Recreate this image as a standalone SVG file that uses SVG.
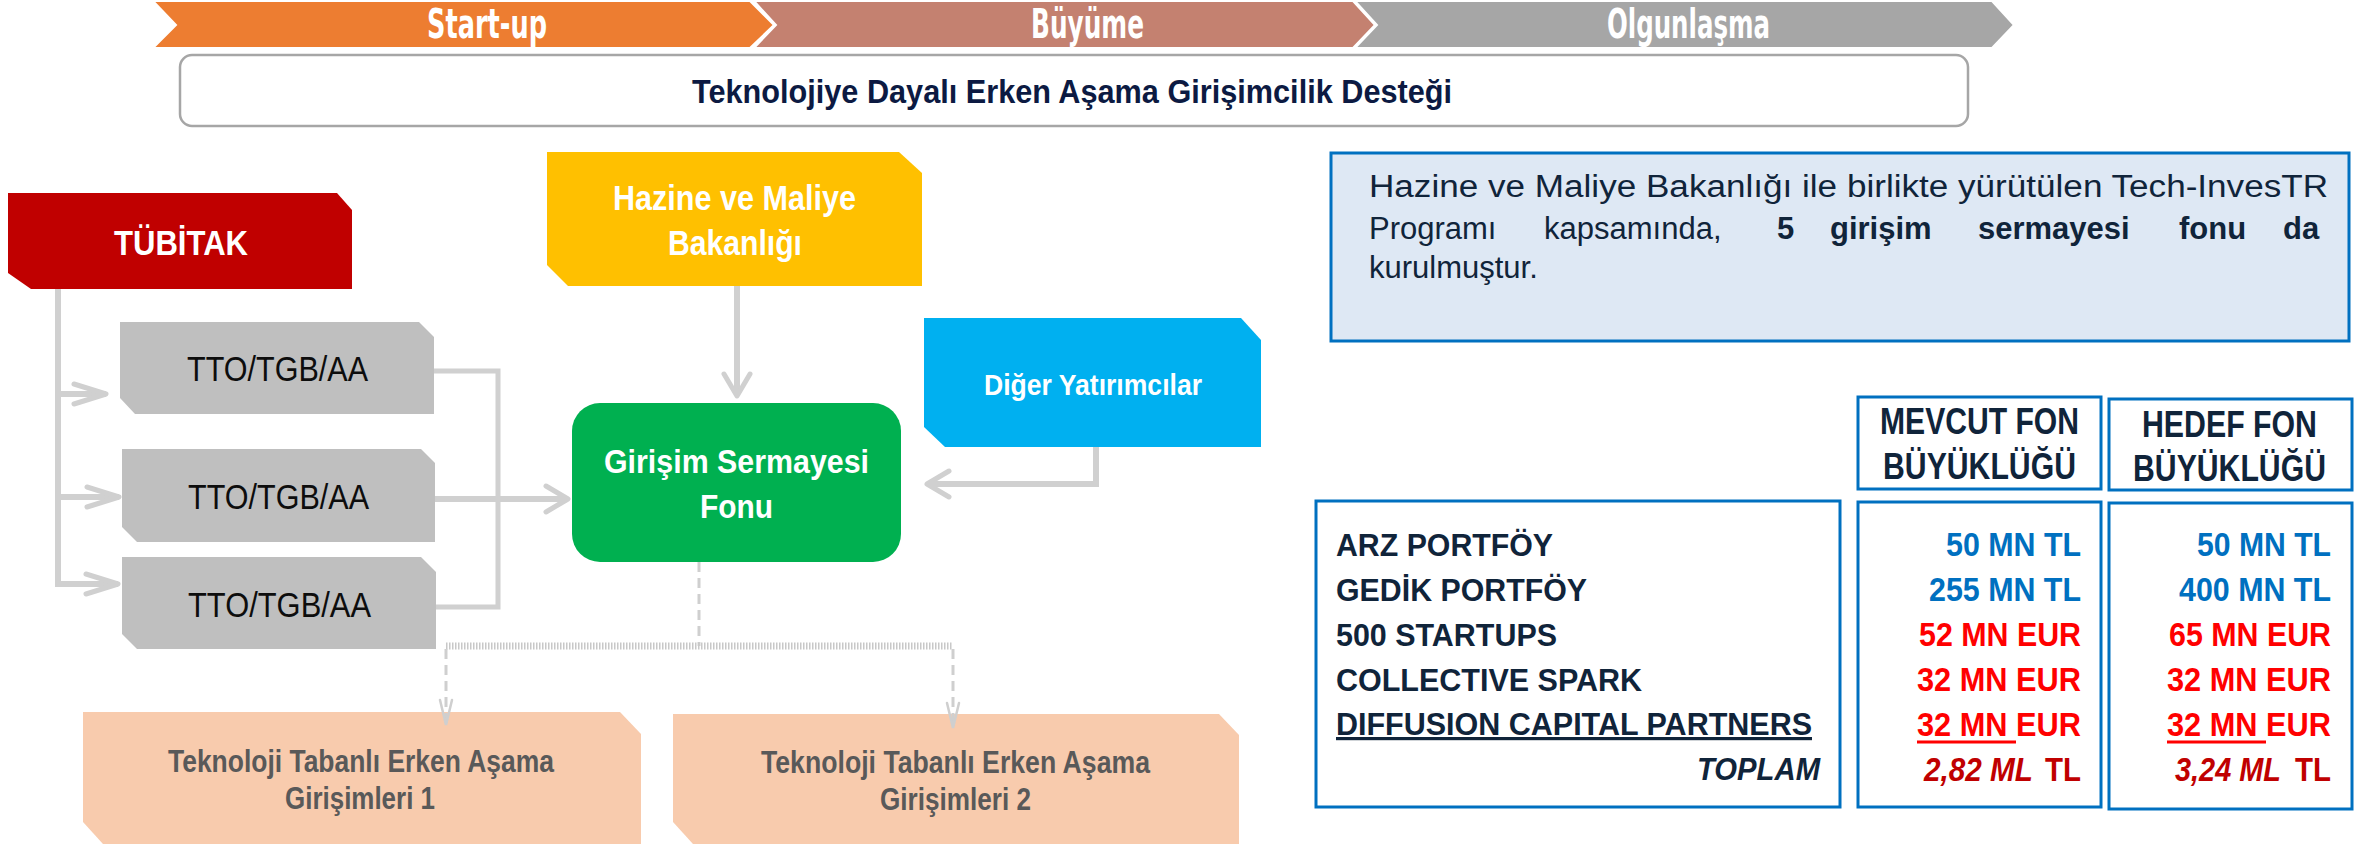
<svg xmlns="http://www.w3.org/2000/svg" width="2371" height="846" viewBox="0 0 2371 846">
<style>
  text { font-family: "Liberation Sans", Arial, sans-serif; }
  .stage { font-family: "DejaVu Sans Condensed", "Liberation Sans Narrow", sans-serif; font-weight: bold; font-size: 40px; fill: #ffffff; }
  .wb { font-weight: bold; fill: #ffffff; }
  .tto { font-size: 35px; fill: #0d0d0d; }
  .peach { font-weight: bold; font-size: 31px; fill: #595959; }
  .dark { fill: #10243a; font-weight: bold; }
  .info { font-size: 31px; fill: #10243a; }
  .blue { fill: #0070c0; font-weight: bold; font-size: 34px; }
  .red { fill: #ff0000; font-weight: bold; font-size: 34px; }
  .dred { fill: #c00000; font-weight: bold; font-size: 34px; }
  .box { fill: #ffffff; stroke: #0070c0; stroke-width: 3; }
  .ul { stroke: #ff0000; stroke-width: 3; }
  .cn { fill: none; stroke: #d0d0d0; stroke-width: 6; }
  .cn2 { fill: none; stroke: #d0d0d0; stroke-width: 5; }
  .dash { fill: none; stroke: #cfcfcf; stroke-width: 3; stroke-dasharray: 10 6; }
  .dots { fill: none; stroke: #c8c8c8; stroke-width: 7; stroke-dasharray: 1.5 1.5; }
</style>
<defs>
  <marker id="chevL" markerUnits="userSpaceOnUse" orient="auto" overflow="visible" markerWidth="1" markerHeight="1" refX="0" refY="0">
    <path d="M-32,-10 L0,0 L-32,10" fill="none" stroke="#d0d0d0" stroke-width="5" stroke-linecap="round" stroke-linejoin="round"/>
  </marker>
  <marker id="chevS" markerUnits="userSpaceOnUse" orient="auto" overflow="visible" markerWidth="1" markerHeight="1" refX="0" refY="0">
    <path d="M-22,-13 L0,0 L-22,13" fill="none" stroke="#d0d0d0" stroke-width="5" stroke-linecap="round" stroke-linejoin="round"/>
  </marker>
  <marker id="chevD" markerUnits="userSpaceOnUse" orient="auto" overflow="visible" markerWidth="1" markerHeight="1" refX="0" refY="0">
    <path d="M-25,-6 L0,0 L-25,6" fill="none" stroke="#cfcfcf" stroke-width="2.5" stroke-linecap="round"/>
  </marker>
</defs>
<rect width="2371" height="846" fill="#ffffff"/>

<g id="stage-startup">
  <polygon points="153,1 750,1 774,25 750,48 153,48 176,25" fill="#ed7d31" stroke="#ffffff" stroke-width="2"/>
  <text class="stage" x="427" y="38" textLength="120" lengthAdjust="spacingAndGlyphs">Start-up</text>
</g>
<g id="stage-buyume">
  <polygon points="754,1 1353,1 1375,25 1353,48 754,48 776,25" fill="#c48170" stroke="#ffffff" stroke-width="2"/>
  <text class="stage" x="1031" y="38" textLength="113" lengthAdjust="spacingAndGlyphs">Büyüme</text>
</g>
<g id="stage-olgunlasma">
  <polygon points="1355,1 1992,1 2014,25 1992,48 1355,48 1377,25" fill="#a6a6a6" stroke="#ffffff" stroke-width="2"/>
  <text class="stage" x="1607" y="38" textLength="163" lengthAdjust="spacingAndGlyphs">Olgunlaşma</text>
</g>

<g id="title">
  <rect x="180" y="55" width="1788" height="71" rx="12" fill="#ffffff" stroke="#a6a6a6" stroke-width="2.5"/>
  <text x="692" y="103" font-size="33" font-weight="bold" fill="#0c1a42" textLength="760" lengthAdjust="spacingAndGlyphs">Teknolojiye Dayalı Erken Aşama Girişimcilik Desteği</text>
</g>

<g id="tubitak">
  <polygon points="8,193 337,193 352,210 352,289 31,289 8,273" fill="#c00000"/>
  <text class="wb" x="114" y="255" font-size="35" textLength="134" lengthAdjust="spacingAndGlyphs">TÜBİTAK</text>
</g>

<g id="hazine">
  <polygon points="547,152 899,152 922,173 922,286 568,286 547,265" fill="#ffc000"/>
  <text class="wb" x="613" y="210" font-size="35" textLength="243" lengthAdjust="spacingAndGlyphs">Hazine ve Maliye</text>
  <text class="wb" x="668" y="255" font-size="35" textLength="134" lengthAdjust="spacingAndGlyphs">Bakanlığı</text>
</g>

<g id="tto1">
  <polygon points="120,322 419,322 434,337 434,414 135,414 120,398" fill="#bfbfbf"/>
  <text class="tto" x="187" y="381" textLength="181" lengthAdjust="spacingAndGlyphs">TTO/TGB/AA</text>
</g>
<g id="tto2">
  <polygon points="122,449 421,449 435,463 435,542 137,542 122,527" fill="#bfbfbf"/>
  <text class="tto" x="188" y="509" textLength="181" lengthAdjust="spacingAndGlyphs">TTO/TGB/AA</text>
</g>
<g id="tto3">
  <polygon points="122,557 421,557 436,572 436,649 137,649 122,634" fill="#bfbfbf"/>
  <text class="tto" x="188" y="617" textLength="183" lengthAdjust="spacingAndGlyphs">TTO/TGB/AA</text>
</g>

<g id="girisim-fonu">
  <rect x="572" y="403" width="329" height="159" rx="28" fill="#00b050"/>
  <text class="wb" x="604" y="473" font-size="34" textLength="265" lengthAdjust="spacingAndGlyphs">Girişim Sermayesi</text>
  <text class="wb" x="700" y="518" font-size="34" textLength="73" lengthAdjust="spacingAndGlyphs">Fonu</text>
</g>

<g id="diger">
  <polygon points="924,318 1241,318 1261,340 1261,447 945,447 924,427" fill="#00b0f0"/>
  <text class="wb" x="984" y="395" font-size="30" textLength="218" lengthAdjust="spacingAndGlyphs">Diğer Yatırımcılar</text>
</g>

<g id="girisim1">
  <polygon points="83,712 620,712 641,734 641,844 103,844 83,822" fill="#f8cbad"/>
  <text class="peach" x="168" y="772" textLength="386" lengthAdjust="spacingAndGlyphs">Teknoloji Tabanlı Erken Aşama</text>
  <text class="peach" x="285" y="809" textLength="150" lengthAdjust="spacingAndGlyphs">Girişimleri 1</text>
</g>
<g id="girisim2">
  <polygon points="673,714 1219,714 1239,735 1239,844 693,844 673,822" fill="#f8cbad"/>
  <text class="peach" x="761" y="773" textLength="389" lengthAdjust="spacingAndGlyphs">Teknoloji Tabanlı Erken Aşama</text>
  <text class="peach" x="880" y="810" textLength="151" lengthAdjust="spacingAndGlyphs">Girişimleri 2</text>
</g>

<g id="info">
  <rect x="1331" y="153" width="1018" height="188" fill="#dee8f4" stroke="#0070c0" stroke-width="3"/>
  <text class="info" x="1369" y="197" textLength="959" lengthAdjust="spacingAndGlyphs">Hazine ve Maliye Bakanlığı ile birlikte yürütülen Tech-InvesTR</text>
  <text class="info" y="239"><tspan x="1369">Programı</tspan><tspan x="1544">kapsamında,</tspan><tspan x="1777" font-weight="bold">5</tspan><tspan x="1830" font-weight="bold">girişim</tspan><tspan x="1978" font-weight="bold">sermayesi</tspan><tspan x="2179" font-weight="bold">fonu</tspan><tspan x="2283" font-weight="bold">da</tspan></text>
  <text class="info" x="1369" y="278">kurulmuştur.</text>
</g>

<g id="header-mevcut">
  <rect class="box" x="1858" y="397" width="243" height="92"/>
  <text class="dark" x="1880" y="434" font-size="36" textLength="199" lengthAdjust="spacingAndGlyphs">MEVCUT FON</text>
  <text class="dark" x="1883" y="479" font-size="36" textLength="193" lengthAdjust="spacingAndGlyphs">BÜYÜKLÜĞÜ</text>
</g>
<g id="header-hedef">
  <rect class="box" x="2109" y="399" width="243" height="91"/>
  <text class="dark" x="2142" y="437" font-size="36" textLength="175" lengthAdjust="spacingAndGlyphs">HEDEF FON</text>
  <text class="dark" x="2133" y="481" font-size="36" textLength="193" lengthAdjust="spacingAndGlyphs">BÜYÜKLÜĞÜ</text>
</g>

<g id="fund-names">
  <rect class="box" x="1316" y="501" width="524" height="306"/>
  <text class="dark" x="1336" y="556" font-size="32" textLength="217" lengthAdjust="spacingAndGlyphs">ARZ PORTFÖY</text>
  <text class="dark" x="1336" y="601" font-size="32" textLength="251" lengthAdjust="spacingAndGlyphs">GEDİK PORTFÖY</text>
  <text class="dark" x="1336" y="646" font-size="32" textLength="221" lengthAdjust="spacingAndGlyphs">500 STARTUPS</text>
  <text class="dark" x="1336" y="691" font-size="32" textLength="306" lengthAdjust="spacingAndGlyphs">COLLECTIVE SPARK</text>
  <text class="dark" x="1336" y="735" font-size="32" textLength="476" lengthAdjust="spacingAndGlyphs" text-decoration="underline">DIFFUSION CAPITAL PARTNERS</text>
  <text class="dark" x="1697" y="780" font-size="32" font-style="italic" textLength="123" lengthAdjust="spacingAndGlyphs">TOPLAM</text>
</g>

<g id="fund-mevcut">
  <rect class="box" x="1858" y="502" width="243" height="305"/>
  <text class="blue" x="1946" y="556" textLength="135" lengthAdjust="spacingAndGlyphs">50 MN TL</text>
  <text class="blue" x="1929" y="601" textLength="152" lengthAdjust="spacingAndGlyphs">255 MN TL</text>
  <text class="red" x="1919" y="646" textLength="162" lengthAdjust="spacingAndGlyphs">52 MN EUR</text>
  <text class="red" x="1917" y="691" textLength="164" lengthAdjust="spacingAndGlyphs">32 MN EUR</text>
  <text class="red" x="1917" y="736" textLength="164" lengthAdjust="spacingAndGlyphs">32 MN EUR</text>
  <line class="ul" x1="1917" y1="742" x2="2016" y2="742"/>
  <text class="dred" x="1924" y="781" font-style="italic" textLength="109" lengthAdjust="spacingAndGlyphs">2,82 ML</text>
  <text class="dred" x="2045" y="781" textLength="36" lengthAdjust="spacingAndGlyphs">TL</text>
</g>

<g id="fund-hedef">
  <rect class="box" x="2109" y="503" width="243" height="306"/>
  <text class="blue" x="2197" y="556" textLength="134" lengthAdjust="spacingAndGlyphs">50 MN TL</text>
  <text class="blue" x="2179" y="601" textLength="152" lengthAdjust="spacingAndGlyphs">400 MN TL</text>
  <text class="red" x="2169" y="646" textLength="162" lengthAdjust="spacingAndGlyphs">65 MN EUR</text>
  <text class="red" x="2167" y="691" textLength="164" lengthAdjust="spacingAndGlyphs">32 MN EUR</text>
  <text class="red" x="2167" y="736" textLength="164" lengthAdjust="spacingAndGlyphs">32 MN EUR</text>
  <line class="ul" x1="2167" y1="742" x2="2266" y2="742"/>
  <text class="dred" x="2175" y="781" font-style="italic" textLength="106" lengthAdjust="spacingAndGlyphs">3,24 ML</text>
  <text class="dred" x="2295" y="781" textLength="36" lengthAdjust="spacingAndGlyphs">TL</text>
</g>

<g id="connectors">
  <path class="cn" d="M58,289 V584 H118" marker-end="url(#chevL)"/>
  <path class="cn" d="M58,394 H106" marker-end="url(#chevL)"/>
  <path class="cn" d="M58,497 H119" marker-end="url(#chevL)"/>
  <path class="cn2" d="M434,371 H498 V607 H436"/>
  <path class="cn" d="M435,499 H568" marker-end="url(#chevS)"/>
  <path class="cn" d="M737,286 V396" marker-end="url(#chevS)"/>
  <path class="cn" d="M1096,447 V484 H927" marker-end="url(#chevS)"/>
  <path class="dash" d="M699,562 V646"/>
  <path class="dots" d="M446,646 H953"/>
  <path class="dash" d="M446,649 V725" marker-end="url(#chevD)"/>
  <path class="dash" d="M953,649 V728" marker-end="url(#chevD)"/>
</g>
</svg>
